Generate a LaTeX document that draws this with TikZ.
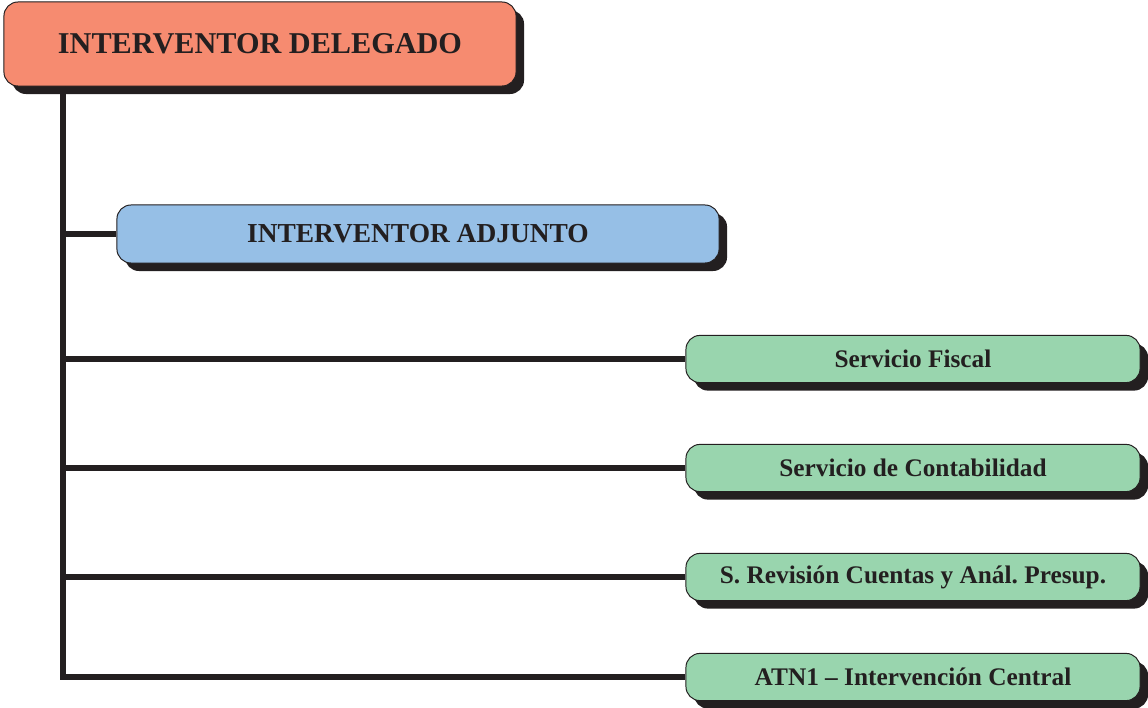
\documentclass[tikz,border=0pt]{standalone}
\usepackage{fontspec}
\setmainfont{Liberation Serif}
\usepackage{tikz}
\usetikzlibrary{positioning, shadows, calc}
\definecolor{delegsalmon}{RGB}{246, 139, 112}
\definecolor{adjblue}{RGB}{150, 191, 230}
\definecolor{servgreen}{RGB}{153, 213, 174}
\definecolor{inkdark}{RGB}{35, 31, 32}
\frenchspacing

\begin{document}
\begin{tikzpicture}[
    x=0.025cm, y=-0.025cm,
    box/.style={draw=inkdark, rounded corners=10pt, line width=0.7pt,
                align=center, text=inkdark, font=\bfseries, inner sep=0pt,
                drop shadow={shadow xshift=0.2cm, shadow yshift=-0.2cm,
                             fill=inkdark, opacity=1}},
    chief/.style={box, fill=delegsalmon, minimum width=12.8cm,
                  minimum height=2.1cm, font=\bfseries\fontsize{21.5}{25}\selectfont},
    deputy/.style={box, fill=adjblue, minimum width=15.05cm,
                   minimum height=1.45cm, font=\bfseries\fontsize{19.5}{23}\selectfont},
    service/.style={box, fill=servgreen, minimum width=11.35cm,
                    minimum height=1.18cm, font=\bfseries\fontsize{18}{21}\selectfont},
    link/.style={line width=3.6pt, inkdark},
  ]
    \useasboundingbox (0,0) rectangle (1148,708);

    % Head
    \node[chief] (deleg) at (260,44) {INTERVENTOR DELEGADO};

    % Deputy
    \node[deputy] (adj) at (418,234) {INTERVENTOR ADJUNTO};

    % Services
    \node[service] (fiscal) at (913,359) {Servicio Fiscal};
    \node[service] (conta) at (913,468) {Servicio de Contabilidad};
    \node[service] (revis) at (913,577) {S. Revisión Cuentas y Anál. Presup.};
    \node[service] (atn) at (913,677) {ATN1 -- Intervención Central};

    % Trunk
    \coordinate (trunk) at (63,0);
    \draw[link] (deleg.south -| trunk) -- ([yshift=-1.8pt]atn.west -| trunk);

    % Branches
    \draw[link] (adj.west -| trunk) -- (adj.west);
    \draw[link] (fiscal.west -| trunk) -- (fiscal.west);
    \draw[link] (conta.west -| trunk) -- (conta.west);
    \draw[link] (revis.west -| trunk) -- (revis.west);
    \draw[link] ([xshift=-1.8pt]atn.west -| trunk) -- (atn.west);
  \end{tikzpicture}
\end{document}
